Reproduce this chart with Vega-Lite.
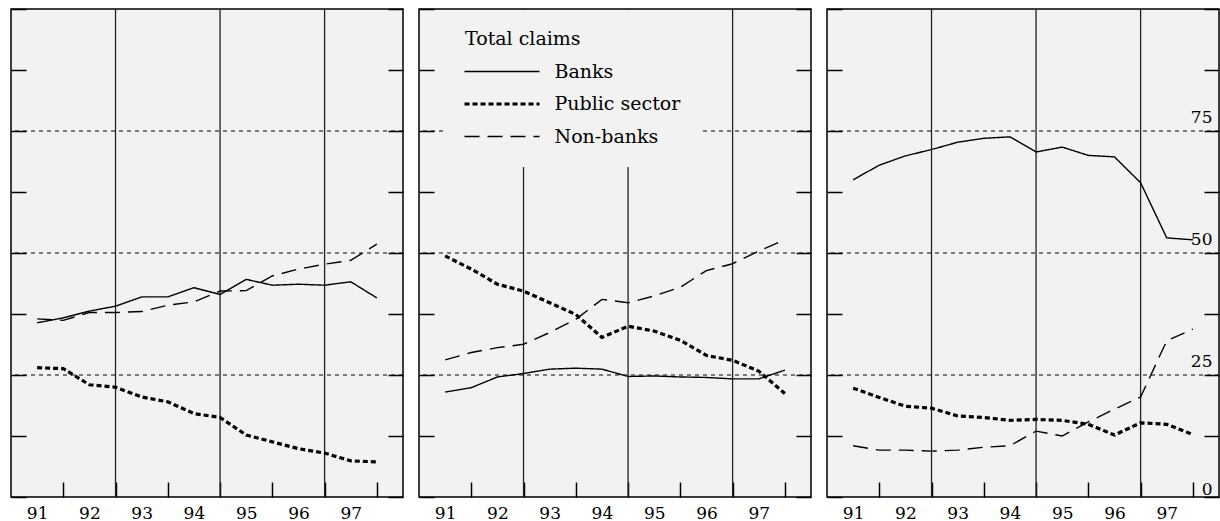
{
  "$schema": "https://vega.github.io/schema/vega-lite/v6.json",
  "padding": {"left": 9, "top": 7, "right": 0, "bottom": 0},
  "background": "white",
  "spacing": 16,
  "bounds": "flush",
  "config": {
    "view": {"fill": "#f2f2f2", "stroke": "black", "strokeWidth": 1.5},
    "axis": {"labelFont": "DejaVu Serif", "labelFontSize": 17, "labelColor": "black", "tickColor": "black", "tickWidth": 1.5, "domain": false, "grid": false, "title": null, "labelFlush": false, "labelOverlap": false}
  },
  "resolve": {"scale": {"strokeDash": "independent"}, "legend": {"strokeDash": "independent"}},
  "datasets": {
    "lines": [
      {"p":1,"s":"Banks","t":91,"v":35.7},{"p":1,"s":"Banks","t":91.5,"v":36.7},{"p":1,"s":"Banks","t":92,"v":38.1},{"p":1,"s":"Banks","t":92.5,"v":39.1},{"p":1,"s":"Banks","t":93,"v":41.0},{"p":1,"s":"Banks","t":93.5,"v":41.0},{"p":1,"s":"Banks","t":94,"v":42.9},{"p":1,"s":"Banks","t":94.5,"v":41.5},{"p":1,"s":"Banks","t":95,"v":44.6},{"p":1,"s":"Banks","t":95.5,"v":43.4},{"p":1,"s":"Banks","t":96,"v":43.6},{"p":1,"s":"Banks","t":96.5,"v":43.4},{"p":1,"s":"Banks","t":97,"v":44.1},{"p":1,"s":"Banks","t":97.5,"v":40.8},
      {"p":1,"s":"Public sector","t":91,"v":26.5},{"p":1,"s":"Public sector","t":91.5,"v":26.3},{"p":1,"s":"Public sector","t":92,"v":23.0},{"p":1,"s":"Public sector","t":92.5,"v":22.5},{"p":1,"s":"Public sector","t":93,"v":20.5},{"p":1,"s":"Public sector","t":93.5,"v":19.5},{"p":1,"s":"Public sector","t":94,"v":17.1},{"p":1,"s":"Public sector","t":94.5,"v":16.3},{"p":1,"s":"Public sector","t":95,"v":12.7},{"p":1,"s":"Public sector","t":95.5,"v":11.3},{"p":1,"s":"Public sector","t":96,"v":9.9},{"p":1,"s":"Public sector","t":96.5,"v":9.0},{"p":1,"s":"Public sector","t":97,"v":7.4},{"p":1,"s":"Public sector","t":97.5,"v":7.2},
      {"p":1,"s":"Non-banks","t":91,"v":36.5},{"p":1,"s":"Non-banks","t":91.5,"v":36.2},{"p":1,"s":"Non-banks","t":92,"v":37.8},{"p":1,"s":"Non-banks","t":92.5,"v":37.8},{"p":1,"s":"Non-banks","t":93,"v":38.0},{"p":1,"s":"Non-banks","t":93.5,"v":39.3},{"p":1,"s":"Non-banks","t":94,"v":40.0},{"p":1,"s":"Non-banks","t":94.5,"v":42.2},{"p":1,"s":"Non-banks","t":95,"v":42.3},{"p":1,"s":"Non-banks","t":95.5,"v":45.3},{"p":1,"s":"Non-banks","t":96,"v":46.7},{"p":1,"s":"Non-banks","t":96.5,"v":47.7},{"p":1,"s":"Non-banks","t":97,"v":48.5},{"p":1,"s":"Non-banks","t":97.5,"v":51.8},
      {"p":2,"s":"Banks","t":91,"v":21.5},{"p":2,"s":"Banks","t":91.5,"v":22.4},{"p":2,"s":"Banks","t":92,"v":24.6},{"p":2,"s":"Banks","t":92.5,"v":25.3},{"p":2,"s":"Banks","t":93,"v":26.2},{"p":2,"s":"Banks","t":93.5,"v":26.4},{"p":2,"s":"Banks","t":94,"v":26.2},{"p":2,"s":"Banks","t":94.5,"v":24.7},{"p":2,"s":"Banks","t":95,"v":24.8},{"p":2,"s":"Banks","t":95.5,"v":24.6},{"p":2,"s":"Banks","t":96,"v":24.5},{"p":2,"s":"Banks","t":96.5,"v":24.2},{"p":2,"s":"Banks","t":97,"v":24.2},{"p":2,"s":"Banks","t":97.5,"v":26.0},
      {"p":2,"s":"Public sector","t":91,"v":49.4},{"p":2,"s":"Public sector","t":91.5,"v":46.7},{"p":2,"s":"Public sector","t":92,"v":43.6},{"p":2,"s":"Public sector","t":92.5,"v":42.2},{"p":2,"s":"Public sector","t":93,"v":39.8},{"p":2,"s":"Public sector","t":93.5,"v":37.4},{"p":2,"s":"Public sector","t":94,"v":32.7},{"p":2,"s":"Public sector","t":94.5,"v":35.0},{"p":2,"s":"Public sector","t":95,"v":34.0},{"p":2,"s":"Public sector","t":95.5,"v":32.1},{"p":2,"s":"Public sector","t":96,"v":29.0},{"p":2,"s":"Public sector","t":96.5,"v":28.0},{"p":2,"s":"Public sector","t":97,"v":25.8},{"p":2,"s":"Public sector","t":97.5,"v":21.2},
      {"p":2,"s":"Non-banks","t":91,"v":28.1},{"p":2,"s":"Non-banks","t":91.5,"v":29.6},{"p":2,"s":"Non-banks","t":92,"v":30.6},{"p":2,"s":"Non-banks","t":92.5,"v":31.3},{"p":2,"s":"Non-banks","t":93,"v":33.7},{"p":2,"s":"Non-banks","t":93.5,"v":36.4},{"p":2,"s":"Non-banks","t":94,"v":40.5},{"p":2,"s":"Non-banks","t":94.5,"v":39.8},{"p":2,"s":"Non-banks","t":95,"v":41.2},{"p":2,"s":"Non-banks","t":95.5,"v":43.0},{"p":2,"s":"Non-banks","t":96,"v":46.4},{"p":2,"s":"Non-banks","t":96.5,"v":47.8},{"p":2,"s":"Non-banks","t":97,"v":50.4},{"p":2,"s":"Non-banks","t":97.5,"v":52.7},
      {"p":3,"s":"Banks","t":91,"v":65.0},{"p":3,"s":"Banks","t":91.5,"v":68.0},{"p":3,"s":"Banks","t":92,"v":69.9},{"p":3,"s":"Banks","t":92.5,"v":71.2},{"p":3,"s":"Banks","t":93,"v":72.7},{"p":3,"s":"Banks","t":93.5,"v":73.5},{"p":3,"s":"Banks","t":94,"v":73.8},{"p":3,"s":"Banks","t":94.5,"v":70.7},{"p":3,"s":"Banks","t":95,"v":71.7},{"p":3,"s":"Banks","t":95.5,"v":70.0},{"p":3,"s":"Banks","t":96,"v":69.7},{"p":3,"s":"Banks","t":96.5,"v":64.4},{"p":3,"s":"Banks","t":97,"v":53.1},{"p":3,"s":"Banks","t":97.5,"v":52.7},
      {"p":3,"s":"Public sector","t":91,"v":22.3},{"p":3,"s":"Public sector","t":91.5,"v":20.4},{"p":3,"s":"Public sector","t":92,"v":18.6},{"p":3,"s":"Public sector","t":92.5,"v":18.2},{"p":3,"s":"Public sector","t":93,"v":16.6},{"p":3,"s":"Public sector","t":93.5,"v":16.3},{"p":3,"s":"Public sector","t":94,"v":15.7},{"p":3,"s":"Public sector","t":94.5,"v":15.9},{"p":3,"s":"Public sector","t":95,"v":15.7},{"p":3,"s":"Public sector","t":95.5,"v":14.9},{"p":3,"s":"Public sector","t":96,"v":12.7},{"p":3,"s":"Public sector","t":96.5,"v":15.2},{"p":3,"s":"Public sector","t":97,"v":14.9},{"p":3,"s":"Public sector","t":97.5,"v":12.8},
      {"p":3,"s":"Non-banks","t":91,"v":10.5},{"p":3,"s":"Non-banks","t":91.5,"v":9.6},{"p":3,"s":"Non-banks","t":92,"v":9.6},{"p":3,"s":"Non-banks","t":92.5,"v":9.4},{"p":3,"s":"Non-banks","t":93,"v":9.6},{"p":3,"s":"Non-banks","t":93.5,"v":10.2},{"p":3,"s":"Non-banks","t":94,"v":10.5},{"p":3,"s":"Non-banks","t":94.5,"v":13.5},{"p":3,"s":"Non-banks","t":95,"v":12.5},{"p":3,"s":"Non-banks","t":95.5,"v":15.4},{"p":3,"s":"Non-banks","t":96,"v":18.0},{"p":3,"s":"Non-banks","t":96.5,"v":20.5},{"p":3,"s":"Non-banks","t":97,"v":32.0},{"p":3,"s":"Non-banks","t":97.5,"v":34.4}
    ],
    "grid": [{"g":25},{"g":50},{"g":75}],
    "bounds": [{"b":92.5},{"b":94.5},{"b":96.5}]
  },
  "hconcat": [
    {
      "width": 392, "height": 488,
      "resolve": {"axis": {"x": "independent", "y": "independent"}},
      "layer": [
        {"data": {"name": "grid"}, "mark": {"type": "rule", "color": "black", "strokeWidth": 1, "strokeDash": [4,4]},
         "encoding": {"y": {"field": "g", "type": "quantitative", "scale": {"domain": [0,100], "nice": false, "zero": false},
           "axis": {"orient": "right", "values": [0,12.5,25,37.5,50,62.5,75,87.5,100], "tickSize": -15, "labels": false}}}},
        {"data": {"name": "bounds"}, "mark": {"type": "rule", "color": "#222", "strokeWidth": 1.3},
         "encoding": {"x": {"field": "b", "type": "quantitative", "scale": {"domain": [90.5,98], "nice": false, "zero": false}, "axis": null}}},
        {"data": {"name": "lines"}, "transform": [{"filter": "datum.p == 1"}],
         "mark": {"type": "line", "color": "black"},
         "encoding": {
           "x": {"field": "t", "type": "quantitative", "scale": {"domain": [90.5,98], "nice": false, "zero": false},
             "axis": {"values": [91,91.5,92,92.5,93,93.5,94,94.5,95,95.5,96,96.5,97,97.5], "labelExpr": "datum.value % 1 === 0 ? format(datum.value, 'd') : ''", "tickOpacity": {"condition": {"test": "datum.value % 1 !== 0", "value": 1}, "value": 0}, "tickSize": -15, "labelPadding": 23}},
           "y": {"field": "v", "type": "quantitative", "scale": {"domain": [0,100], "nice": false, "zero": false},
             "axis": {"orient": "left", "values": [0,12.5,25,37.5,50,62.5,75,87.5,100], "tickSize": -15, "labels": false}},
           "strokeDash": {"field": "s", "type": "nominal", "scale": {"domain": ["Banks","Public sector","Non-banks"], "range": [[1,0],[5,3],[15,8]]}, "legend": null},
           "strokeWidth": {"condition": {"test": "datum.s === 'Public sector'", "value": 3.2}, "value": 1.4}
         }}
      ]
    },
    {
      "width": 392, "height": 488,
      "resolve": {"axis": {"x": "independent", "y": "independent"}},
      "layer": [
        {"data": {"name": "grid"}, "mark": {"type": "rule", "color": "black", "strokeWidth": 1, "strokeDash": [4,4]},
         "encoding": {"y": {"field": "g", "type": "quantitative", "scale": {"domain": [0,100], "nice": false, "zero": false},
           "axis": {"orient": "right", "values": [0,12.5,25,37.5,50,62.5,75,87.5,100], "tickSize": -15, "labels": false}}}},
        {"data": {"name": "bounds"}, "mark": {"type": "rule", "color": "#222", "strokeWidth": 1.3},
         "encoding": {"x": {"field": "b", "type": "quantitative", "scale": {"domain": [90.5,98], "nice": false, "zero": false}, "axis": null}}},
        {"data": {"name": "lines"}, "transform": [{"filter": "datum.p == 2"}],
         "mark": {"type": "line", "color": "black"},
         "encoding": {
           "x": {"field": "t", "type": "quantitative", "scale": {"domain": [90.5,98], "nice": false, "zero": false},
             "axis": {"values": [91,91.5,92,92.5,93,93.5,94,94.5,95,95.5,96,96.5,97,97.5], "labelExpr": "datum.value % 1 === 0 ? format(datum.value, 'd') : ''", "tickOpacity": {"condition": {"test": "datum.value % 1 !== 0", "value": 1}, "value": 0}, "tickSize": -15, "labelPadding": 23}},
           "y": {"field": "v", "type": "quantitative", "scale": {"domain": [0,100], "nice": false, "zero": false},
             "axis": {"orient": "left", "values": [0,12.5,25,37.5,50,62.5,75,87.5,100], "tickSize": -15, "labels": false}},
           "strokeDash": {"field": "s", "type": "nominal", "scale": {"domain": ["Banks","Public sector","Non-banks"], "range": [[1,0],[5,3],[15,8]]},
             "legend": {"title": "Total claims", "orient": "none", "legendX": 26, "legendY": 1, "padding": 20, "fillColor": "#f2f2f2",
               "symbolType": "stroke", "symbolSize": 5625, "symbolStrokeColor": "black", "symbolOffset": 27.5,
               "labelFont": "DejaVu Serif", "labelFontSize": 19, "labelColor": "black", "labelOffset": 43,
               "titleFont": "DejaVu Serif", "titleFontSize": 19, "titleFontWeight": "normal", "titleColor": "black", "titlePadding": 13, "rowPadding": 12.5,
               "encode": {"symbols": {"update": {"strokeWidth": {"signal": "datum.value === 'Public sector' ? 3.2 : 1.6"}}}}}},
           "strokeWidth": {"condition": {"test": "datum.s === 'Public sector'", "value": 3.2}, "value": 1.4}
         }}
      ]
    },
    {
      "width": 392, "height": 488,
      "resolve": {"axis": {"x": "independent", "y": "independent"}},
      "layer": [
        {"data": {"name": "grid"}, "mark": {"type": "rule", "color": "black", "strokeWidth": 1, "strokeDash": [4,4]},
         "encoding": {"y": {"field": "g", "type": "quantitative", "scale": {"domain": [0,100], "nice": false, "zero": false},
           "axis": {"orient": "right", "values": [0,12.5,25,37.5,50,62.5,75,87.5,100], "tickSize": -15, "labels": true,
             "labelExpr": "datum.value % 25 === 0 && datum.value < 100 ? format(datum.value, 'd') : ''",
             "labelAlign": "right", "labelBaseline": "alphabetic", "labelPadding": 8,
             "labelOffset": {"condition": [{"test": "datum.value === 0", "value": -3}, {"test": "datum.value > 80", "value": 30}], "value": -9}}}}},
        {"data": {"name": "bounds"}, "mark": {"type": "rule", "color": "#222", "strokeWidth": 1.3},
         "encoding": {"x": {"field": "b", "type": "quantitative", "scale": {"domain": [90.5,98], "nice": false, "zero": false}, "axis": null}}},
        {"data": {"name": "lines"}, "transform": [{"filter": "datum.p == 3"}],
         "mark": {"type": "line", "color": "black"},
         "encoding": {
           "x": {"field": "t", "type": "quantitative", "scale": {"domain": [90.5,98], "nice": false, "zero": false},
             "axis": {"values": [91,91.5,92,92.5,93,93.5,94,94.5,95,95.5,96,96.5,97,97.5], "labelExpr": "datum.value % 1 === 0 ? format(datum.value, 'd') : ''", "tickOpacity": {"condition": {"test": "datum.value % 1 !== 0", "value": 1}, "value": 0}, "tickSize": -15, "labelPadding": 23}},
           "y": {"field": "v", "type": "quantitative", "scale": {"domain": [0,100], "nice": false, "zero": false},
             "axis": {"orient": "left", "values": [0,12.5,25,37.5,50,62.5,75,87.5,100], "tickSize": -15, "labels": false}},
           "strokeDash": {"field": "s", "type": "nominal", "scale": {"domain": ["Banks","Public sector","Non-banks"], "range": [[1,0],[5,3],[15,8]]}, "legend": null},
           "strokeWidth": {"condition": {"test": "datum.s === 'Public sector'", "value": 3.2}, "value": 1.4}
         }}
      ]
    }
  ]
}
